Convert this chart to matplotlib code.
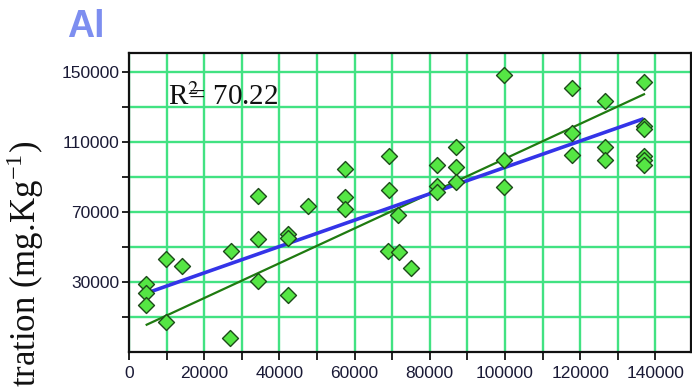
import numpy as np
import matplotlib
matplotlib.use('Agg')
import matplotlib.pyplot as plt
from matplotlib.ticker import MultipleLocator, FixedLocator

# points
x_vals = [4500, 4500, 4500, 9800, 9800, 14100, 27000, 27200, 34300, 34300,
          34300, 42300, 42300, 42300, 47500, 57400, 57400, 57400, 69100, 69100,
          69000, 71600, 71800, 75000, 81800, 81800, 81800, 87100, 87100, 87100,
          99800, 99800, 99800, 117900, 117900, 117900, 126600, 126600, 126600,
          137000, 137000, 137000, 137000, 137000, 137000]
y_vals = [28700, 23500, 16700, 42800, 6600, 39000, -2300, 47200, 30400, 54400,
          79000, 57100, 55000, 22400, 73300, 94200, 78400, 71600, 101800, 82400,
          47600, 68100, 46800, 38000, 96700, 84700, 81300, 107200, 95400, 87200,
          148100, 99600, 84300, 140500, 114800, 102400, 133400, 107200, 99600,
          144300, 119000, 117500, 101800, 99600, 96700]

# the two fitted lines (end points)
green_x = [4700, 137000]
green_y = [5300, 137100]
blue_x = [4700, 136500]
blue_y = [23400, 122800]

x_ticks = [0, 20000, 40000, 60000, 80000, 100000, 120000, 140000]
y_ticks = [30000, 70000, 110000, 150000]
r2_label = 'R$^{2}\\!\\!\\!$= 70.22'
# the label is cropped in the source picture, only this part shows
ylabel = r'tration (mg.Kg$^{\mathregular{-1}}$)'

plt.rcParams['mathtext.fontset'] = 'stix'

fig = plt.figure(figsize=(6.92, 3.87), dpi=100)
ax = fig.add_axes([129/692, 35/387, 562/692, 299/387])

ax.set_xlim(0, 149500)
ax.set_ylim(-10300, 160700)

ax.xaxis.set_minor_locator(MultipleLocator(10000))
ax.yaxis.set_minor_locator(FixedLocator(np.arange(10000, 160000, 20000)))
ax.set_xticks(x_ticks)
ax.set_xticklabels([str(t) for t in x_ticks])
ax.set_yticks(y_ticks)
ax.set_yticklabels([str(t) for t in y_ticks])

gcol = '#42e282'
ax.grid(which='both', color=gcol, lw=1.7, zorder=0)
for gx in np.arange(10000, 149500, 10000):
    ax.axvline(gx, color='#3c4a48', lw=0.5, alpha=0.6, zorder=0.5)
for gy in np.arange(10000, 160000, 20000):
    ax.axhline(gy, color='#3c4a48', lw=0.5, alpha=0.6, zorder=0.5)
ax.set_axisbelow(True)

for s in ax.spines.values():
    s.set_linewidth(1.6)
    s.set_color('#111111')

ax.tick_params(axis='both', which='both', direction='out', color='#111111', width=1.3,
               labelsize=12.5, labelcolor='#1a1a36')
ax.tick_params(axis='y', which='both', length=5, pad=2)
ax.tick_params(axis='x', which='both', length=6, pad=4)
for lab in ax.get_xticklabels() + ax.get_yticklabels():
    lab.set_family('Liberation Sans')

ax.plot(green_x, green_y, color='#1f7a10', lw=1.6, zorder=3)
ax.plot(blue_x, blue_y, color='#3434e8', lw=2.6, zorder=3)
ax.scatter(x_vals, y_vals, marker='D', s=66, facecolor='#55e644', edgecolor='#1d4a1a',
           linewidths=1.0, zorder=4)

ax.text(10300, 131000, r2_label, family='Liberation Serif', fontsize=21,
        va='baseline', ha='left', color='#111111', zorder=5)

fig.text(67/692, 1 - 37/387, 'Al', family='Liberation Sans', weight='bold',
         fontsize=27, color='#7d8ef0', ha='left', va='baseline')
fig.text(25/692, 1 - 140/387, ylabel,
         family='Liberation Serif', fontsize=25, rotation=90, ha='center', va='top',
         color='#111111')

fig.savefig('out.png', dpi=100)
